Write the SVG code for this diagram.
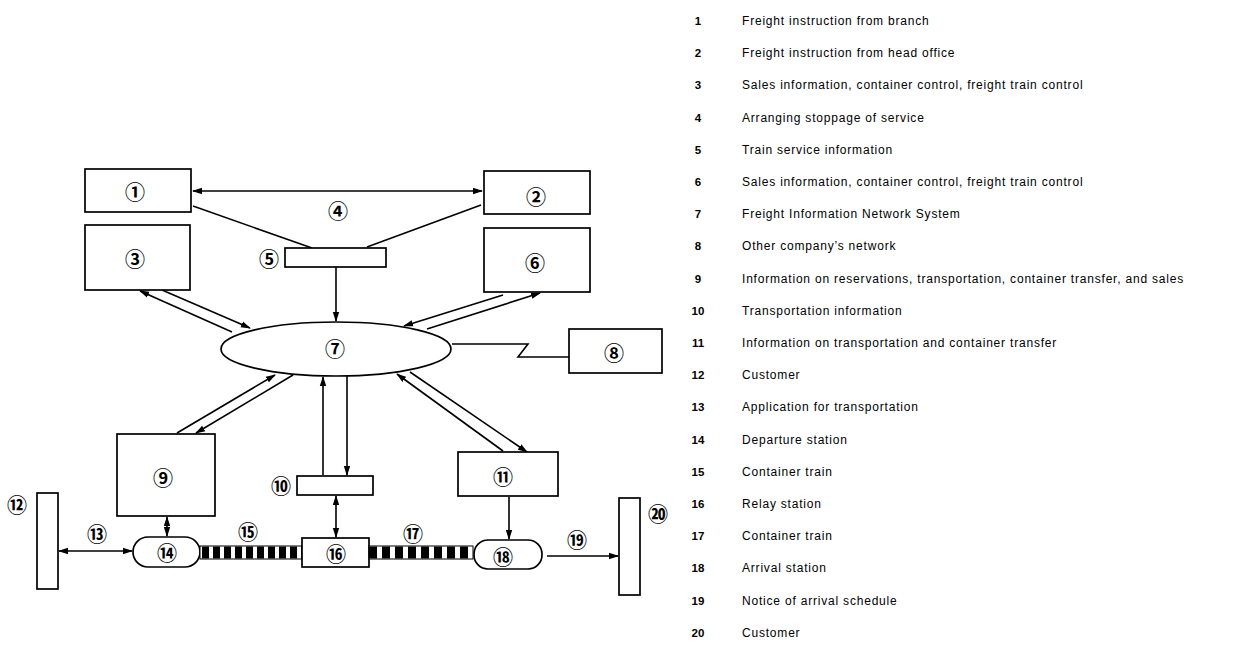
<svg xmlns="http://www.w3.org/2000/svg" width="1241" height="647" viewBox="0 0 1241 647">
<defs>
<marker id="ah" markerUnits="userSpaceOnUse" markerWidth="10" markerHeight="8" refX="9" refY="4" orient="auto-start-reverse" viewBox="0 0 10 8">
<path d="M0,0.8 L10,4 L0,7.2 Z" fill="#000"/>
</marker>
<style>
.bx{fill:#fff;stroke:#000;stroke-width:1.7}
.ln{fill:none;stroke:#000;stroke-width:1.6}
.cn{font-family:"Noto Sans CJK JP","DejaVu Sans",sans-serif;font-size:20px;font-weight:bold;text-anchor:middle;dominant-baseline:central;fill:#000}
.lg{font-family:"Liberation Sans",Arial,sans-serif;font-size:12px;letter-spacing:0.8px;fill:#000}
.lnum{font-family:"Liberation Sans",Arial,sans-serif;font-size:11.5px;font-weight:bold;fill:#000;text-anchor:middle}
.tr{fill:none;stroke:#000;stroke-width:12}
</style>
</defs>
<rect width="1241" height="647" fill="#fff"/>

<g id="connectors">
<line class="ln" x1="193" y1="191" x2="482" y2="191" marker-start="url(#ah)" marker-end="url(#ah)"/>
<line class="ln" x1="193" y1="206" x2="312" y2="248"/>
<line class="ln" x1="481" y1="205" x2="367" y2="247"/>
<line class="ln" x1="336" y1="267" x2="336" y2="321" marker-end="url(#ah)"/>
<line class="ln" x1="232" y1="332" x2="140" y2="291" marker-end="url(#ah)"/>
<line class="ln" x1="162" y1="290" x2="250" y2="328" marker-end="url(#ah)"/>
<line class="ln" x1="503" y1="295" x2="404" y2="326" marker-end="url(#ah)"/>
<line class="ln" x1="427" y1="329" x2="540" y2="293" marker-end="url(#ah)"/>
<polyline class="ln" points="452,344 528,344 518,357 569,357" stroke-width="1.2"/>
<line class="ln" x1="177" y1="433" x2="275" y2="375" marker-end="url(#ah)"/>
<line class="ln" x1="293" y1="375" x2="196" y2="433" marker-end="url(#ah)"/>
<line class="ln" x1="323" y1="475" x2="323" y2="377" marker-end="url(#ah)"/>
<line class="ln" x1="347" y1="376" x2="347" y2="475" marker-end="url(#ah)"/>
<line class="ln" x1="503" y1="451" x2="397" y2="374" marker-end="url(#ah)"/>
<line class="ln" x1="410" y1="372" x2="527" y2="452" marker-end="url(#ah)"/>
<line class="ln" x1="336" y1="496" x2="336" y2="537" marker-start="url(#ah)" marker-end="url(#ah)"/>
<line class="ln" x1="167" y1="517" x2="167" y2="536" marker-start="url(#ah)" marker-end="url(#ah)"/>
<line class="ln" x1="509" y1="497" x2="509" y2="539" marker-end="url(#ah)"/>
<line class="ln" x1="59" y1="551" x2="132" y2="551" marker-start="url(#ah)" marker-end="url(#ah)" stroke-width="1.2"/>
<line class="ln" x1="547" y1="556" x2="618" y2="556" marker-end="url(#ah)" stroke-width="1.2"/>
</g>

<g id="n1"><rect class="bx" x="85" y="169" width="106" height="43"/><text class="cn" x="135" y="191">①</text></g>
<g id="n2"><rect class="bx" x="484" y="171" width="106" height="43"/><text class="cn" x="536" y="196">②</text></g>
<g id="n3"><rect class="bx" x="85" y="225" width="105" height="65"/><text class="cn" x="135" y="258">③</text></g>
<g id="n4"><text class="cn" x="338" y="210">④</text></g>
<g id="n5"><rect class="bx" x="285" y="248" width="101" height="19"/><text class="cn" x="269" y="258">⑤</text></g>
<g id="n6"><rect class="bx" x="484" y="228" width="106" height="64"/><text class="cn" x="535" y="262">⑥</text></g>
<g id="n7"><ellipse class="bx" cx="336" cy="349" rx="115" ry="27"/><text class="cn" x="335" y="348">⑦</text></g>
<g id="n8"><rect class="bx" x="569" y="329" width="93" height="44"/><text class="cn" x="614" y="352">⑧</text></g>
<g id="n9"><rect class="bx" x="117" y="434" width="98" height="82"/><text class="cn" x="163" y="477">⑨</text></g>
<g id="n10"><rect class="bx" x="297" y="476" width="76" height="19"/><text class="cn" x="281" y="485">⑩</text></g>
<g id="n11"><rect class="bx" x="458" y="452" width="100" height="44"/><text class="cn" x="503" y="476">⑪</text></g>
<g id="n12"><rect class="bx" x="37" y="493" width="21" height="96"/><text class="cn" x="17" y="504">⑫</text></g>
<g id="n13"><text class="cn" x="97" y="533">⑬</text></g>
<g id="n14"><rect class="bx" x="133" y="537" width="67" height="30" rx="15"/><text class="cn" x="167" y="552">⑭</text></g>
<g id="n15">
<rect x="200" y="546" width="102" height="13" fill="#fff" stroke="#000" stroke-width="1"/>
<line class="tr" x1="202" y1="552.5" x2="302" y2="552.5" stroke-dasharray="7 4"/>
<text class="cn" x="248" y="531">⑮</text></g>
<g id="n16"><rect class="bx" x="302" y="538" width="67" height="29"/><text class="cn" x="336" y="553">⑯</text></g>
<g id="n17">
<rect x="369" y="546" width="104" height="13" fill="#fff" stroke="#000" stroke-width="1"/>
<line class="tr" x1="369" y1="552.5" x2="473" y2="552.5" stroke-dasharray="8 5"/>
<text class="cn" x="413" y="533">⑰</text></g>
<g id="n18"><rect class="bx" x="474" y="540" width="68" height="29" rx="14"/><text class="cn" x="503" y="556">⑱</text></g>
<g id="n19"><text class="cn" x="577" y="539">⑲</text></g>
<g id="n20"><rect class="bx" x="619" y="498" width="21" height="97"/><text class="cn" x="658" y="513">⑳</text></g>

<g id="legend">
<text class="lnum" x="698" y="25">1</text><text class="lg" x="742" y="25">Freight instruction from branch</text>
<text class="lnum" x="698" y="57">2</text><text class="lg" x="742" y="57">Freight instruction from head office</text>
<text class="lnum" x="698" y="89">3</text><text class="lg" x="742" y="89">Sales information, container control, freight train control</text>
<text class="lnum" x="698" y="122">4</text><text class="lg" x="742" y="122">Arranging stoppage of service</text>
<text class="lnum" x="698" y="154">5</text><text class="lg" x="742" y="154">Train service information</text>
<text class="lnum" x="698" y="186">6</text><text class="lg" x="742" y="186">Sales information, container control, freight train control</text>
<text class="lnum" x="698" y="218">7</text><text class="lg" x="742" y="218">Freight Information Network System</text>
<text class="lnum" x="698" y="250">8</text><text class="lg" x="742" y="250">Other company’s network</text>
<text class="lnum" x="698" y="283">9</text><text class="lg" x="742" y="283">Information on reservations, transportation, container transfer, and sales</text>
<text class="lnum" x="698" y="315">10</text><text class="lg" x="742" y="315">Transportation information</text>
<text class="lnum" x="698" y="347">11</text><text class="lg" x="742" y="347">Information on transportation and container transfer</text>
<text class="lnum" x="698" y="379">12</text><text class="lg" x="742" y="379">Customer</text>
<text class="lnum" x="698" y="411">13</text><text class="lg" x="742" y="411">Application for transportation</text>
<text class="lnum" x="698" y="444">14</text><text class="lg" x="742" y="444">Departure station</text>
<text class="lnum" x="698" y="476">15</text><text class="lg" x="742" y="476">Container train</text>
<text class="lnum" x="698" y="508">16</text><text class="lg" x="742" y="508">Relay station</text>
<text class="lnum" x="698" y="540">17</text><text class="lg" x="742" y="540">Container train</text>
<text class="lnum" x="698" y="572">18</text><text class="lg" x="742" y="572">Arrival station</text>
<text class="lnum" x="698" y="605">19</text><text class="lg" x="742" y="605">Notice of arrival schedule</text>
<text class="lnum" x="698" y="637">20</text><text class="lg" x="742" y="637">Customer</text>
</g>
</svg>
